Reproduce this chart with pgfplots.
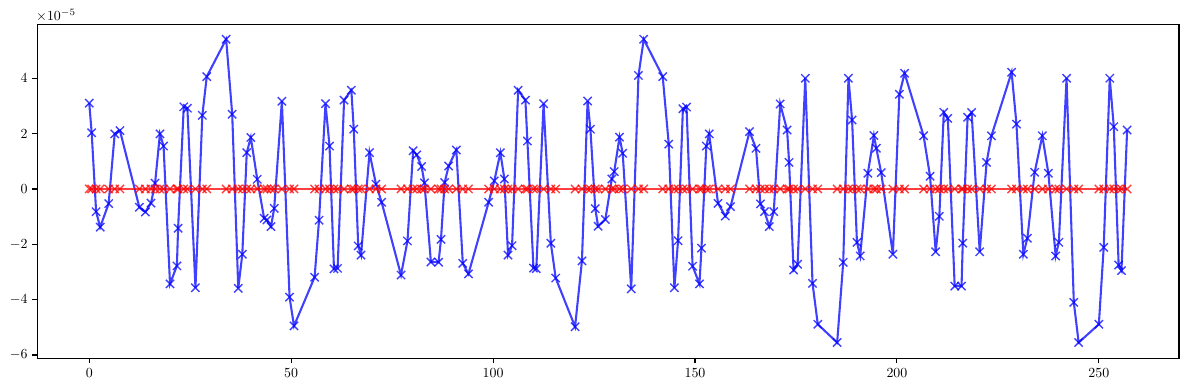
\documentclass[border=0pt]{standalone}
\usepackage{pgfplots}
\usepackage{pgfplotstable}
\pgfplotsset{compat=1.18}
\pgfplotstableread{
x blue red
0 3.10 0
0.6 2.03 0
1.7 -0.82 0
2.7 -1.38 0
4.8 -0.53 0
6.3 1.99 0
7.6 2.11 0
12.4 -0.66 0
13.9 -0.83 0
15.3 -0.51 0
16.3 0.21 0
17.5 1.99 0
18.4 1.55 0
20.0 -3.43 0
21.7 -2.78 0
22.0 -1.42 0
23.4 2.97 0
24.3 2.92 0
26.3 -3.57 0
28.0 2.66 0
29.1 4.06 0
33.9 5.41 0
35.4 2.70 0
36.9 -3.59 0
37.9 -2.36 0
39.0 1.31 0
40.0 1.86 0
41.6 0.35 0
43.3 -1.06 0
44.0 -1.12 0
45.0 -1.36 0
45.8 -0.70 0
47.7 3.17 0
49.6 -3.91 0
50.7 -4.95 0
55.8 -3.19 0
56.9 -1.13 0
58.5 3.08 0
59.5 1.55 0
60.6 -2.89 0
61.5 -2.87 0
63.1 3.21 0
64.9 3.57 0
65.5 2.16 0
66.6 -2.06 0
67.3 -2.39 0
69.4 1.31 0
71.0 0.17 0
72.4 -0.48 0
77.2 -3.11 0
78.8 -1.88 0
80.2 1.38 0
81.1 1.23 0
82.3 0.81 0
83.0 0.22 0
84.6 -2.64 0
86.5 -2.65 0
87.1 -1.82 0
88.0 0.23 0
89.0 0.83 0
90.9 1.41 0
92.5 -2.69 0
93.9 -3.07 0
98.9 -0.48 0
100.3 0.29 0
101.8 1.31 0
102.8 0.36 0
103.7 -2.39 0
104.7 -2.05 0
106.2 3.57 0
108.0 3.21 0
108.5 1.73 0
110.0 -2.86 0
110.7 -2.88 0
112.5 3.08 0
114.3 -1.96 0
115.5 -3.22 0
120.3 -4.98 0
122.0 -2.60 0
123.4 3.18 0
124.1 2.16 0
125.3 -0.71 0
126.0 -1.35 0
127.8 -1.10 0
129.4 0.36 0
130.0 0.63 0
131.3 1.87 0
132.1 1.29 0
134.2 -3.61 0
136.0 4.10 0
137.3 5.41 0
142.0 4.06 0
143.5 1.62 0
144.9 -3.57 0
145.8 -1.87 0
147.0 2.90 0
147.9 2.96 0
149.4 -2.79 0
151.1 -3.43 0
151.6 -2.14 0
152.8 1.55 0
153.5 1.99 0
155.7 -0.52 0
157.5 -0.98 0
158.8 -0.64 0
163.5 2.07 0
165.1 1.47 0
166.2 -0.54 0
167.2 -0.82 0
168.4 -1.36 0
169.5 -0.82 0
171.1 3.07 0
172.8 2.13 0
173.3 0.96 0
174.4 -2.93 0
175.4 -2.72 0
177.3 4.00 0
179.1 -3.41 0
180.4 -4.89 0
185.2 -5.55 0
186.7 -2.65 0
188.0 4.00 0
188.9 2.49 0
190.1 -1.93 0
190.9 -2.42 0
192.8 0.57 0
194.3 1.93 0
194.9 1.47 0
196.1 0.59 0
199.0 -2.36 0
200.6 3.42 0
201.9 4.18 0
206.6 1.92 0
208.2 0.46 0
209.6 -2.27 0
210.5 -0.99 0
211.6 2.77 0
212.6 2.55 0
214.3 -3.51 0
216.0 -3.51 0
216.3 -1.96 0
217.5 2.59 0
218.5 2.76 0
220.5 -2.27 0
222.2 0.96 0
223.4 1.92 0
228.4 4.22 0
229.6 2.34 0
231.3 -2.36 0
232.3 -1.78 0
234.1 0.60 0
236.0 1.92 0
237.5 0.57 0
239.3 -2.42 0
240.1 -1.93 0
242.0 4.00 0
243.8 -4.10 0
245.0 -5.55 0
250.0 -4.89 0
251.2 -2.11 0
252.7 4.00 0
253.7 2.25 0
254.9 -2.75 0
255.6 -2.95 0
257.0 2.13 0
}\datatable
\begin{document}
\begin{tikzpicture}
\begin{axis}[
  scale only axis,
  width=822pt, height=240.5pt,
  xmin=-12.85, xmax=269.85,
  ymin=-6.12, ymax=5.95,
  xtick={0,50,100,150,200,250},
  ytick={-6,-4,-2,0,2,4},
  tick align=outside,
  xtick pos=bottom, ytick pos=left,
  major tick length=3.5pt,
  axis line style={line width=0.8pt},
  every tick/.style={line width=0.8pt, black},
  clip=true,
]
\addplot[color=blue, opacity=0.75, line width=1.5pt, mark=x, mark size=4.2pt, mark options={line width=1pt}] table[x=x, y=blue] {\datatable};
\addplot[color=red, opacity=0.75, line width=1.5pt, mark=x, mark size=4.2pt, mark options={line width=1pt}] table[x=x, y=red] {\datatable};
\end{axis}
\node[anchor=south west, inner sep=0pt] at ([shift={(-1pt,2pt)}]current axis.north west) {$\times10^{-5}$};
\pgfresetboundingbox
\path[use as bounding box] ([shift={(-26.9pt,-22.8pt)}]current axis.south west) rectangle ([shift={(7.2pt,17.5pt)}]current axis.north east);
\end{tikzpicture}
\end{document}
